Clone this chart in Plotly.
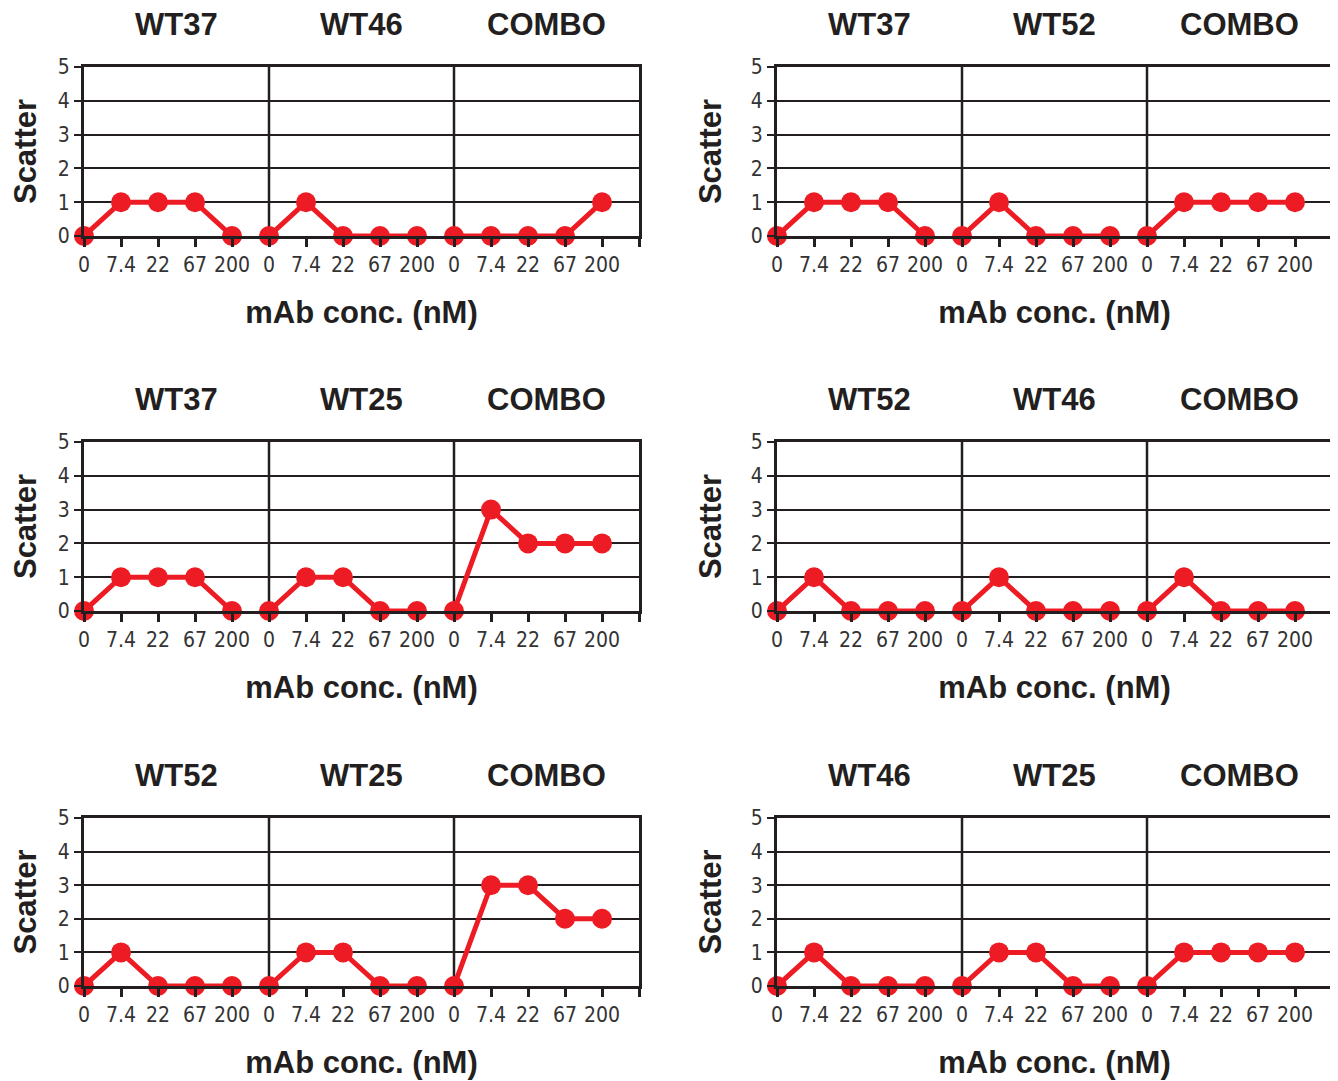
import plotly.graph_objects as go

conc_labels = ["0", "7.4", "22", "67", "200"]
y_ticks = [0, 1, 2, 3, 4, 5]

panel_groups = [
    ["WT37", "WT46", "COMBO"],
    ["WT37", "WT52", "COMBO"],
    ["WT37", "WT25", "COMBO"],
    ["WT52", "WT46", "COMBO"],
    ["WT52", "WT25", "COMBO"],
    ["WT46", "WT25", "COMBO"],
]

panel1_values = [[0, 1, 1, 1, 0], [0, 1, 0, 0, 0], [0, 0, 0, 0, 1]]
panel2_values = [[0, 1, 1, 1, 0], [0, 1, 0, 0, 0], [0, 1, 1, 1, 1]]
panel3_values = [[0, 1, 1, 1, 0], [0, 1, 1, 0, 0], [0, 3, 2, 2, 2]]
panel4_values = [[0, 1, 0, 0, 0], [0, 1, 0, 0, 0], [0, 1, 0, 0, 0]]
panel5_values = [[0, 1, 0, 0, 0], [0, 1, 1, 0, 0], [0, 3, 3, 2, 2]]
panel6_values = [[0, 1, 0, 0, 0], [0, 1, 1, 0, 0], [0, 1, 1, 1, 1]]

panel_values = [panel1_values, panel2_values, panel3_values,
                panel4_values, panel5_values, panel6_values]

W, H = 1338, 1081
OFF = 8  # page body margin compensation
RED = "#ED1C24"
DARK = "#231F20"
TICKFONT = dict(family="Liberation Sans Narrow, DejaVu Sans Condensed, Arial Narrow, sans-serif",
                size=21, color="#333333")
BOLD = dict(family="Liberation Sans, Arial, Helvetica, sans-serif", size=31, color=DARK)

col_px = [(84, 639), (777, 1332)]
row_px = [(67, 236), (442, 611), (818, 986)]
placement = [(0, 0), (0, 1), (1, 0), (1, 1), (2, 0), (2, 1)]

fig = go.Figure()
n_per = len(conc_labels)
tickvals = list(range(3 * n_per + 1))
ticktext = conc_labels * 3 + [""]

for i, (groups, vals) in enumerate(zip(panel_groups, panel_values)):
    r, c = placement[i]
    k = i + 1
    xa = "x" if k == 1 else f"x{k}"
    ya = "y" if k == 1 else f"y{k}"
    xs, ys = [], []
    for g, gv in enumerate(vals):
        for j, v in enumerate(gv):
            xs.append(g * n_per + j)
            ys.append(v)
        xs.append(None)
        ys.append(None)
    fig.add_trace(go.Scatter(
        x=xs, y=ys, xaxis=xa, yaxis=ya, mode="lines+markers",
        line=dict(color=RED, width=5),
        marker=dict(color=RED, size=20),
        cliponaxis=False, showlegend=False, hoverinfo="skip"))

    x0, x1 = col_px[c]
    y0, y1 = row_px[r]
    xdom = [(x0 - OFF) / W, (x1 - OFF) / W]
    ydom = [1 - (y1 - OFF) / H, 1 - (y0 - OFF) / H]
    xkey = "xaxis" if k == 1 else f"xaxis{k}"
    ykey = "yaxis" if k == 1 else f"yaxis{k}"
    fig.update_layout(**{
        xkey: dict(domain=xdom, anchor=ya, range=[0, 3 * n_per],
                   tickmode="array", tickvals=tickvals, ticktext=ticktext,
                   ticks="outside", ticklen=8, tickwidth=2.5, tickcolor=DARK,
                   showline=True, linecolor=DARK, linewidth=3, mirror=True,
                   showgrid=False, zeroline=False, tickfont=TICKFONT,
                   fixedrange=True, automargin=False,
                   title=dict(text="<b>mAb conc. (nM)</b>", font=BOLD, standoff=26)),
        ykey: dict(domain=ydom, anchor=xa, range=[0, 5],
                   tickmode="array", tickvals=y_ticks,
                   ticks="outside", ticklen=7, tickwidth=2, tickcolor=DARK,
                   showline=True, linecolor=DARK, linewidth=3, mirror=True,
                   showgrid=True, gridcolor=DARK, gridwidth=1.6, zeroline=False,
                   tickfont=TICKFONT, fixedrange=True, automargin=False,
                   title=dict(text="<b>Scatter</b>", font=BOLD, standoff=20)),
    })
    for g in range(1, 3):
        fig.add_shape(type="line", xref=xa, yref=f"{ya} domain",
                      x0=g * n_per, x1=g * n_per, y0=0, y1=1,
                      line=dict(color=DARK, width=2.5), layer="below")
    for g, name in enumerate(groups):
        fig.add_annotation(text=f"<b>{name}</b>", xref=xa, yref=f"{ya} domain",
                           x=g * n_per + n_per / 2, y=1, yanchor="middle",
                           yshift=43, showarrow=False, font=BOLD)

fig.update_layout(width=W, height=H, margin=dict(l=0, r=0, t=0, b=0),
                  paper_bgcolor="white", plot_bgcolor="white")
fig.write_html("out.html")
